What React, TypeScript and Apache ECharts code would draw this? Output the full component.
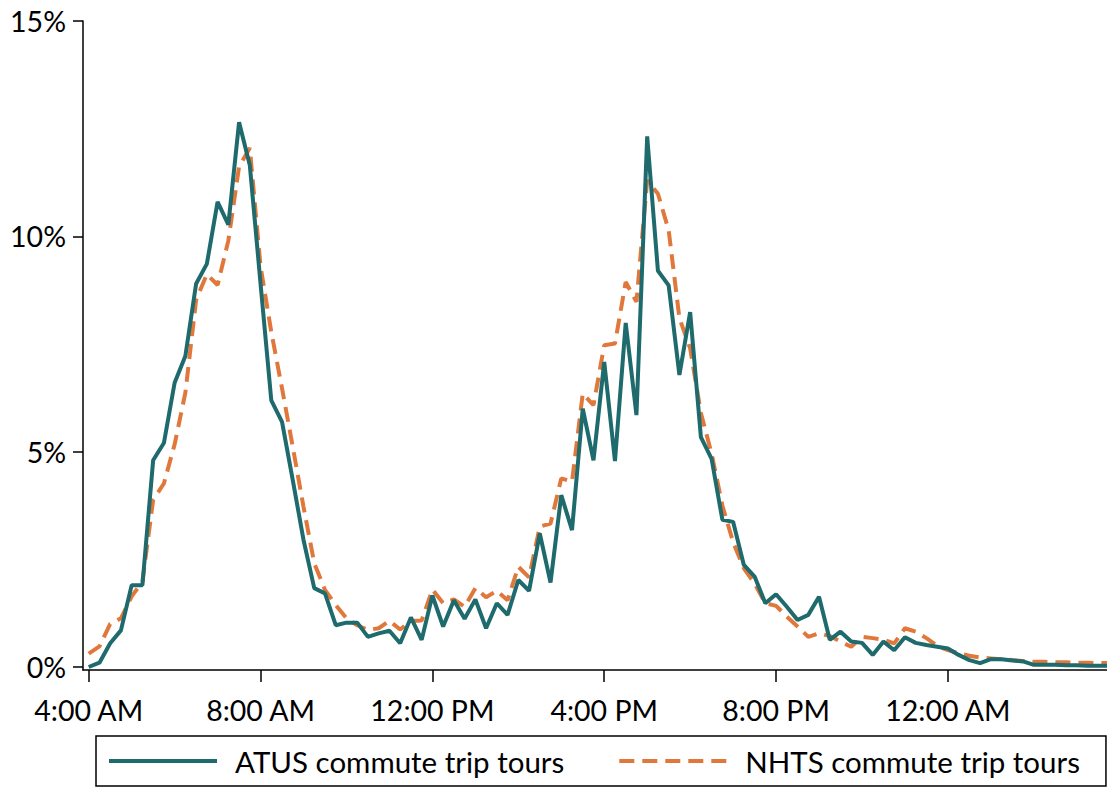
import React, { useEffect, useRef } from "react";
import * as echarts from "echarts";

// 15-minute slots starting at 4:00 AM (hours after 4:00 AM)
const slotHours = 0.25;

const atus = [
  0.0, 0.1, 0.55, 0.85, 1.9, 1.9, 4.8, 5.2, 6.6, 7.22, 8.9, 9.36, 10.8, 10.27, 12.65, 11.65,
  8.9, 6.19, 5.69, 4.34, 2.95, 1.83, 1.71, 0.97, 1.03, 1.03, 0.7, 0.78, 0.84, 0.55, 1.15, 0.63,
  1.66, 0.94, 1.55, 1.12, 1.57, 0.9, 1.48, 1.21, 2.02, 1.77, 3.1, 1.96, 3.99, 3.18, 6.0, 4.8,
  7.08, 4.78, 7.99, 5.85, 12.32, 9.2, 8.86, 6.78, 8.24, 5.34, 4.83, 3.42, 3.37, 2.37, 2.1, 1.48,
  1.69, 1.4, 1.09, 1.21, 1.63, 0.63, 0.82, 0.59, 0.56, 0.28, 0.59, 0.39, 0.69, 0.56, 0.51, 0.47,
  0.43, 0.28, 0.16, 0.09, 0.18, 0.18, 0.15, 0.13, 0.05, 0.05, 0.05, 0.04, 0.04, 0.03, 0.03, 0.03,
];

const nhts = [
  0.31, 0.48, 1.0, 1.13, 1.64, 1.98, 3.88, 4.26, 5.17, 6.37, 8.52, 9.12, 8.87, 9.9, 11.62, 12.05,
  9.3, 7.78, 6.47, 5.11, 3.72, 2.41, 1.79, 1.44, 1.13, 0.97, 0.86, 0.9, 1.07, 0.87, 1.07, 1.08,
  1.8, 1.48, 1.57, 1.4, 1.83, 1.62, 1.77, 1.55, 2.33, 2.08, 3.26, 3.33, 4.38, 4.3, 6.35, 6.08,
  7.47, 7.51, 8.94, 8.48, 11.3, 10.99, 10.14, 8.1, 7.4, 5.9, 4.95, 3.75, 2.9, 2.29, 1.94, 1.48,
  1.42, 1.17, 0.94, 0.7, 0.78, 0.72, 0.59, 0.47, 0.7, 0.67, 0.63, 0.55, 0.9, 0.82, 0.67, 0.49,
  0.39, 0.32, 0.26, 0.22, 0.2, 0.18, 0.16, 0.14, 0.12, 0.12, 0.11, 0.11, 0.1, 0.1, 0.09, 0.09,
];

const xTickValues = [0, 4, 8, 12, 16, 20];
const xTickLabels = ["4:00 AM", "8:00 AM", "12:00 PM", "4:00 PM", "8:00 PM", "12:00 AM"];
const yTickValues = [0, 5, 10, 15];
const seriesNames = ["ATUS commute trip tours", "NHTS commute trip tours"];

const TEAL = "#1e6a6c";
const ORANGE = "#e0783c";
const FONT = "Lato";

export default function App() {
  const ref = useRef<HTMLDivElement>(null);
  useEffect(() => {
    if (!ref.current) return;
    const chart = echarts.init(ref.current, undefined, { renderer: "svg" });
    const toPairs = (arr: number[]) => arr.map((v, i) => [i * slotHours, v]);
    chart.setOption({
      animation: false,
      backgroundColor: "#ffffff",
      grid: { left: 83, right: -2, top: 21, bottom: 121, outerBoundsMode: "none", containLabel: false },
      xAxis: {
        type: "value",
        min: -0.133,
        max: 23.75,
        axisLine: { show: true, onZero: false, lineStyle: { color: "#000", width: 1.5 } },
        axisTick: { show: true, customValues: xTickValues, length: 12, lineStyle: { color: "#000", width: 1.5 } },
        axisLabel: {
          customValues: xTickValues,
          formatter: (v: number) => {
            const idx = xTickValues.indexOf(Math.round(v));
            return idx >= 0 ? xTickLabels[idx] : "";
          },
          fontFamily: FONT,
          fontSize: 28.5,
          color: "#000",
          margin: 25,
        },
        splitLine: { show: false },
      },
      yAxis: {
        type: "value",
        min: -0.07,
        max: 15,
        axisLine: { show: true, onZero: false, lineStyle: { color: "#000", width: 1.5 } },
        axisTick: { show: true, customValues: yTickValues, length: 10, lineStyle: { color: "#000", width: 1.5 } },
        axisLabel: {
          customValues: yTickValues,
          formatter: (v: number) => `${Math.round(v)}%`,
          fontFamily: FONT,
          fontSize: 28.5,
          color: "#000",
          margin: 17,
        },
        splitLine: { show: false },
      },
      legend: {
        show: true,
        left: 96,
        top: 736,
        orient: "horizontal",
        padding: [10, 26, 10, 11],
        borderColor: "#000",
        borderWidth: 1.5,
        borderRadius: 0,
        itemWidth: 108,
        itemHeight: 14,
        itemGap: 53,
        itemStyle: { opacity: 0 },
        lineStyle: { width: 4 },
        textStyle: { fontFamily: FONT, fontSize: 29.5, color: "#000", padding: [0, 0, 0, 13] },
        data: seriesNames,
      },
      series: [
        {
          name: seriesNames[0],
          type: "line",
          data: toPairs(atus),
          symbol: "none",
          lineStyle: { color: TEAL, width: 4, type: "solid" },
          itemStyle: { color: TEAL },
          z: 3,
        },
        {
          name: seriesNames[1],
          type: "line",
          data: toPairs(nhts),
          symbol: "none",
          lineStyle: { color: ORANGE, width: 4, type: [15, 8] },
          itemStyle: { color: ORANGE },
          z: 2,
        },
      ],
    });
    return () => chart.dispose();
  }, []);
  return (
    <div
      ref={ref}
      style={{ position: "fixed", left: 0, top: 0, width: 1107, height: 791, background: "#fff" }}
    />
  );
}
